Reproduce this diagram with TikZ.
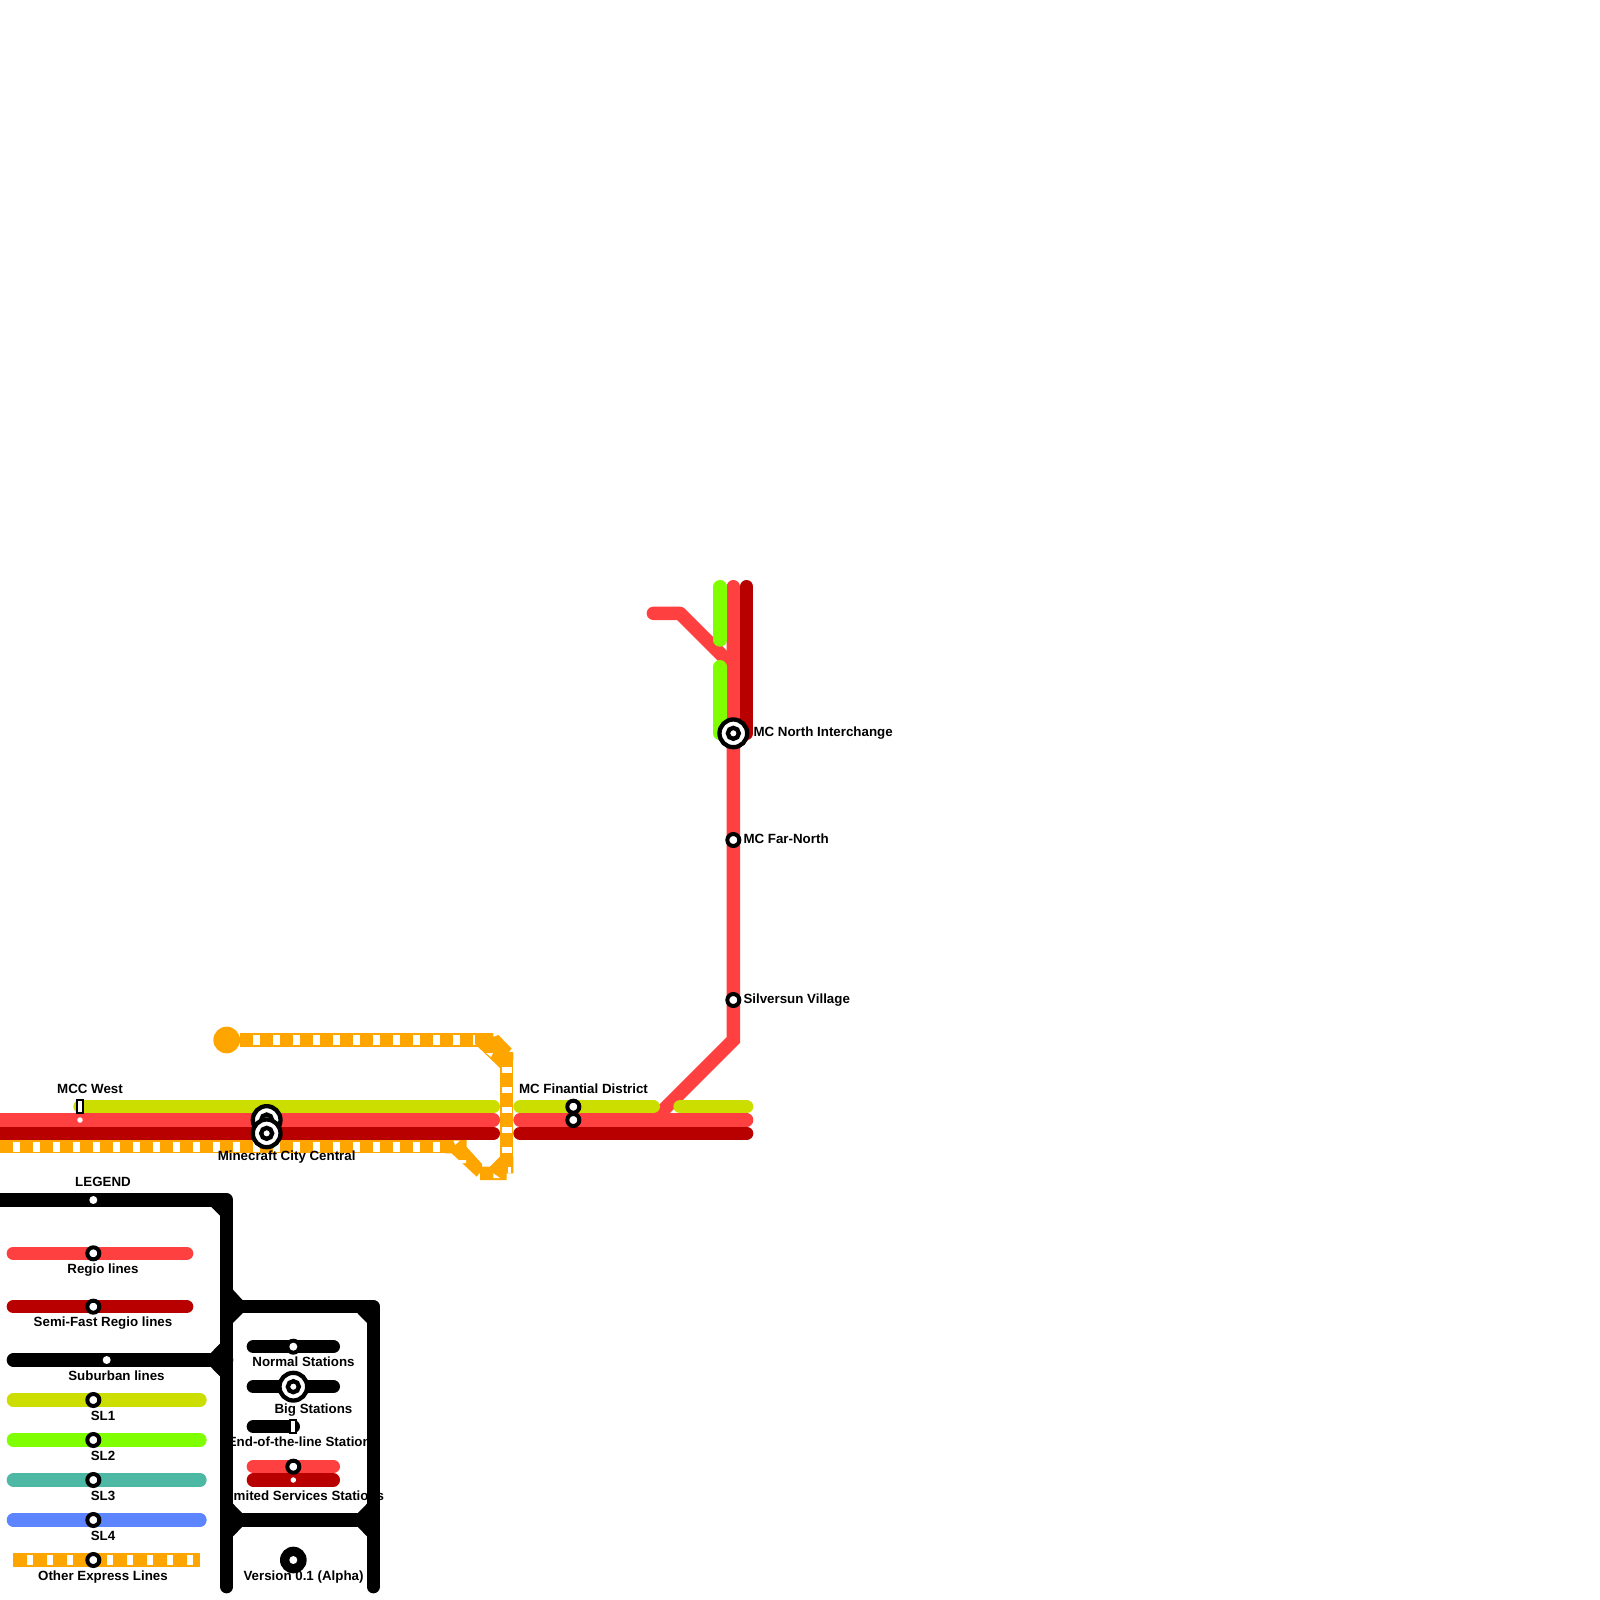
\documentclass[tikz,border=0pt]{standalone}
\usepackage{fontspec}
\setmainfont{Liberation Sans}
\definecolor{cRed}{HTML}{FF4040}
\definecolor{cDark}{HTML}{B80000}
\definecolor{cLime}{HTML}{CCDD00}
\definecolor{cGreen}{HTML}{80FF00}
\definecolor{cTeal}{HTML}{4DB8A4}
\definecolor{cBlue}{HTML}{5C85FF}
\definecolor{cOrange}{HTML}{FFA500}
\tikzset{
  trk/.style={line width=13.333pt,line cap=round,line join=round},
  express/.style={line width=13.333pt,line cap=butt,color=cOrange},
  ticks/.style={line width=10pt,line cap=butt,color=white,dash pattern=on 6.667pt off 13.333pt},
  stop/.style={circle,draw=black,fill=white,line width=4pt,minimum size=12pt,inner sep=0pt,outer sep=0pt},
  whitedot/.style={circle,fill=white,minimum size=8pt,inner sep=0pt,outer sep=0pt},
  smalldot/.style={circle,fill=white,minimum size=5.5pt,inner sep=0pt,outer sep=0pt},
  bigstop/.style={circle,draw=black,fill=white,line width=4.3pt,minimum size=27.7pt,inner sep=0pt,outer sep=0pt},
  bigcore/.style={circle,draw=black,fill=white,line width=4.3pt,minimum size=11pt,inner sep=0pt,outer sep=0pt},
  terminus/.style={rectangle,draw=black,fill=white,line width=1.8pt,minimum width=6pt,minimum height=12.6pt,inner sep=0pt,outer sep=0pt},
  lbl/.style={font=\fontsize{13.33}{15}\selectfont\bfseries,text=black,inner sep=0pt,outer sep=0pt,anchor=base},
  lblw/.style={font=\fontsize{13.33}{15}\selectfont\bfseries,text=black,inner sep=0pt,outer sep=0pt,anchor=base west},
  orangejoint/.style={fill=cOrange,draw=none},
  blackjoint/.style={fill=black,draw=none},
  whitejoint/.style={fill=white,draw=none}
}
\begin{document}
\begin{tikzpicture}[x=1pt,y=-1pt]
\useasboundingbox (0,0) rectangle (1600,1600);
\fill[white] (0,0) rectangle (1600,1600);

% waypoints of the main map
\coordinate (wE) at (0,1120);
\coordinate (wD) at (0,1133.33);
\coordinate (wO) at (0,1146.67);
\coordinate (limeA) at (80,1106.67);
\coordinate (limeB) at (493.33,1106.67);
\coordinate (redB) at (493.33,1120);
\coordinate (darkB) at (493.33,1133.33);
\coordinate (limeC) at (520,1106.67);
\coordinate (limeD) at (653.33,1106.67);
\coordinate (limeE) at (680,1106.67);
\coordinate (limeF) at (746.67,1106.67);
\coordinate (redC) at (520,1120);
\coordinate (redF) at (746.67,1120);
\coordinate (darkC) at (520,1133.33);
\coordinate (darkF) at (746.67,1133.33);
\coordinate (forkS) at (653.33,1120);
\coordinate (bendN) at (733.33,1040);
\coordinate (redTop) at (733.33,586.67);
\coordinate (darkTop) at (746.67,586.67);
\coordinate (darkEnd) at (746.67,733.33);
\coordinate (brA) at (653.33,613.33);
\coordinate (brB) at (680,613.33);
\coordinate (brC) at (733.33,666.67);
\coordinate (grA) at (720,586.67);
\coordinate (grB) at (720,640);
\coordinate (grC) at (720,666.67);
\coordinate (grD) at (720,733.33);

% express line, bottom
\draw[express] (wO) -- (453.33,1146.67);
\draw[ticks] (13.33,1146.67) -- (440,1146.67);
\draw[orangejoint] (445,1140) -- (466.67,1140) -- (466.67,1147) -- (482,1164) -- (482,1170) -- (476.67,1176.67) -- (451.67,1153.33) -- (445,1153.33) -- cycle;
\fill[whitejoint] (453.5,1140.5) -- (460,1140.5) -- (455,1145) -- cycle;
\fill[whitejoint] (457,1160) -- (466,1160) -- (466,1163) -- (461,1163.5) -- cycle;

% express line, top and right
\coordinate (expT) at (240,1040);
\coordinate (expTe) at (493.33,1040);
\coordinate (expV) at (506.67,1052);
\coordinate (expVe) at (506.67,1160);
\draw[express] (expT) -- (expTe);
\draw[ticks] (253.33,1040) -- (expTe);
\draw[orangejoint] (475,1044) -- (475,1033.33) -- (493.33,1033.33) -- (493.33,1037) -- (498.3,1035) -- (511.67,1048.5) -- (508,1053.33) -- (513.33,1053.33) -- (513.33,1060) -- (500,1068) -- cycle;
\fill[whitejoint] (486,1053) -- (493,1053) -- (491,1057) -- cycle;
\draw[express] (expV) -- (expVe);
\draw[ticks] (506.67,1066.67) -- (506.67,1160);
\draw[orangejoint] (480,1166.67) -- (490,1166.67) -- (500,1156.67) -- (513.33,1156.67) -- (513.33,1173.33) -- (506.67,1173.33) -- (506.67,1180) -- (480,1180) -- cycle;
\fill[whitejoint] (493.3,1173.3) -- (500,1178) -- (493.3,1178) -- cycle;
\fill[whitejoint] (508,1167) rectangle (511,1173.33);
\node[circle,fill=cOrange,minimum size=26.67pt,inner sep=0pt,outer sep=0pt] (expEnd) at (226.67,1040) {};

% main lines
\draw[trk,cLime] (limeA) -- (limeB);
\draw[trk,cRed,line cap=butt] (wE) -- (480,1120);
\draw[trk,cRed] (480,1120) -- (redB);
\draw[trk,cDark,line cap=butt] (wD) -- (480,1133.33);
\draw[trk,cDark] (480,1133.33) -- (darkB);
\draw[trk,cDark] (darkC) -- (darkF);
\draw[trk,cRed,line join=miter] (forkS) -- (bendN) -- (redTop);
\draw[trk,cRed] (redC) -- (redF);
\draw[trk,cLime] (limeC) -- (limeD);
\draw[trk,cLime] (limeE) -- (limeF);
\draw[trk,cDark] (darkTop) -- (darkEnd);
\draw[trk,cRed] (brA) -- (brB) -- (brC);
\draw[trk,cGreen] (grA) -- (grB);
\draw[trk,cGreen] (grC) -- (grD);

% legend texts that lie under the black frame
\node[lbl] (tEnd) at (303,1446.7) {End-of-the-line Stations};
\node[lbl] (tLim) at (303,1500) {Limited Services Stations};

% legend frame
\coordinate (fA) at (0,1200);
\coordinate (fB) at (226.67,1200);
\coordinate (fC) at (226.67,1586.67);
\coordinate (fD) at (226.67,1306.67);
\coordinate (fE) at (373.33,1306.67);
\coordinate (fF) at (373.33,1586.67);
\coordinate (fG) at (226.67,1520);
\coordinate (fH) at (373.33,1520);
\coordinate (fI) at (13.33,1360);
\coordinate (fJ) at (226.67,1360);
\draw[trk,black] (fA) -- (fB) -- (fC);
\draw[trk,black] (fD) -- (fE) -- (fF);
\draw[trk,black] (fG) -- (fH);
\draw[trk,black] (fI) -- (fJ);
\fill[blackjoint] (211,1205) -- (222,1205) -- (222,1217) -- (220,1215.5) -- (211,1206.67) -- cycle;
\fill[blackjoint] (232,1288.6) -- (242.5,1300) -- (242.5,1302) -- (232,1302) -- cycle;
\fill[blackjoint] (232,1312) -- (242.5,1312) -- (242.5,1313.33) -- (232,1323.8) -- cycle;
\fill[blackjoint] (357.5,1312) -- (368,1312) -- (368,1323.8) -- (357.5,1313.33) -- cycle;
\fill[blackjoint] (221,1342.5) -- (221,1355) -- (210.5,1355) -- (210.5,1353.33) -- cycle;
\fill[blackjoint] (221,1365) -- (221,1377.5) -- (210.5,1366.67) -- (210.5,1365) -- cycle;
\fill[blackjoint] (232,1502.7) -- (242.5,1513.33) -- (242.5,1515) -- (232,1515) -- cycle;
\fill[blackjoint] (368,1502.7) -- (368,1515) -- (357.5,1515) -- (357.5,1513.33) -- cycle;
\fill[blackjoint] (232,1525) -- (242.5,1525) -- (242.5,1526.67) -- (232,1537.3) -- cycle;
\fill[blackjoint] (357.5,1525) -- (368,1525) -- (368,1537.3) -- (357.5,1526.67) -- cycle;

% legend samples
\draw[trk,cRed] (13.33,1253.33) -- (186.67,1253.33);
\draw[trk,cDark] (13.33,1306.67) -- (186.67,1306.67);
\draw[trk,cLime] (13.33,1400) -- (200,1400);
\draw[trk,cGreen] (13.33,1440) -- (200,1440);
\draw[trk,cTeal] (13.33,1480) -- (200,1480);
\draw[trk,cBlue] (13.33,1520) -- (200,1520);
\draw[express] (13.33,1560) -- (200,1560);
\draw[ticks] (26.67,1560) -- (200,1560);
\draw[trk,black] (253.33,1346.67) -- (333.33,1346.67);
\draw[trk,black] (253.33,1386.67) -- (333.33,1386.67);
\draw[trk,black] (253.33,1426.67) -- (293.33,1426.67);
\draw[trk,cRed] (253.33,1466.67) -- (333.33,1466.67);
\draw[trk,cDark] (253.33,1480) -- (333.33,1480);

% stations, map
\node[terminus] (sWest) at (80,1106.67) {};
\node[smalldot] (sWestB) at (80,1120) {};
\node[bigstop] (sCentA) at (266.67,1120) {};
\node[bigcore] (sCentAc) at (266.67,1120) {};
\node[bigstop] (sCentB) at (266.67,1133.33) {};
\node[bigcore] (sCentBc) at (266.67,1133.33) {};
\node[stop] (sFinA) at (573.33,1106.67) {};
\node[stop] (sFinB) at (573.33,1120) {};
\node[bigstop] (sNorth) at (733.33,733.33) {};
\node[bigcore] (sNorthc) at (733.33,733.33) {};
\node[stop] (sFar) at (733.33,840) {};
\node[stop] (sSilver) at (733.33,1000) {};

% stations, legend
\node[whitedot] (lTop) at (93.33,1200) {};
\node[stop] (lRegio) at (93.33,1253.33) {};
\node[stop] (lSemi) at (93.33,1306.67) {};
\node[whitedot] (lSub) at (106.67,1360) {};
\node[stop] (lS1) at (93.33,1400) {};
\node[stop] (lS2) at (93.33,1440) {};
\node[stop] (lS3) at (93.33,1480) {};
\node[stop] (lS4) at (93.33,1520) {};
\node[stop] (lOther) at (93.33,1560) {};
\node[circle,fill=black,minimum size=16pt,inner sep=0pt,outer sep=0pt] (lNormB) at (293.33,1346.67) {};
\node[whitedot] (lNorm) at (293.33,1346.67) {};
\node[bigstop] (lBig) at (293.33,1386.67) {};
\node[bigcore] (lBigc) at (293.33,1386.67) {};
\node[terminus] (lEnd) at (293.33,1426.67) {};
\node[stop] (lLim) at (293.33,1466.67) {};
\node[smalldot] (lLimB) at (293.33,1480) {};
\node[circle,fill=black,minimum size=26.67pt,inner sep=0pt,outer sep=0pt] (lVer) at (293.33,1560) {};
\node[whitedot] (lVerc) at (293.33,1560) {};

% labels
\node[lbl] (tWest) at (90,1093.4) {MCC West};
\node[lbl] (tCent) at (286.67,1160) {Minecraft City Central};
\node[lbl] (tFin) at (583.5,1093.4) {MC Finantial District};
\node[lblw] (tNorth) at (753.5,736.7) {MC North Interchange};
\node[lblw] (tFar) at (743.5,843) {MC Far-North};
\node[lblw] (tSilver) at (743.5,1003) {Silversun Village};
\node[lbl] (tLeg) at (103,1186.7) {LEGEND};
\node[lbl] (tRegio) at (103,1273.4) {Regio lines};
\node[lbl] (tSemi) at (103,1326.7) {Semi-Fast Regio lines};
\node[lbl] (tSub) at (116.5,1380) {Suburban lines};
\node[lbl] (tS1) at (103,1420) {SL1};
\node[lbl] (tS2) at (103,1460) {SL2};
\node[lbl] (tS3) at (103,1500) {SL3};
\node[lbl] (tS4) at (103,1540) {SL4};
\node[lbl] (tOther) at (103,1580) {Other Express Lines};
\node[lbl] (tNorm) at (303.5,1366.7) {Normal Stations};
\node[lbl] (tBig) at (313.5,1413.4) {Big Stations};
\node[lbl] (tVer) at (303.5,1580) {Version 0.1 (Alpha)};
\end{tikzpicture}
\end{document}
